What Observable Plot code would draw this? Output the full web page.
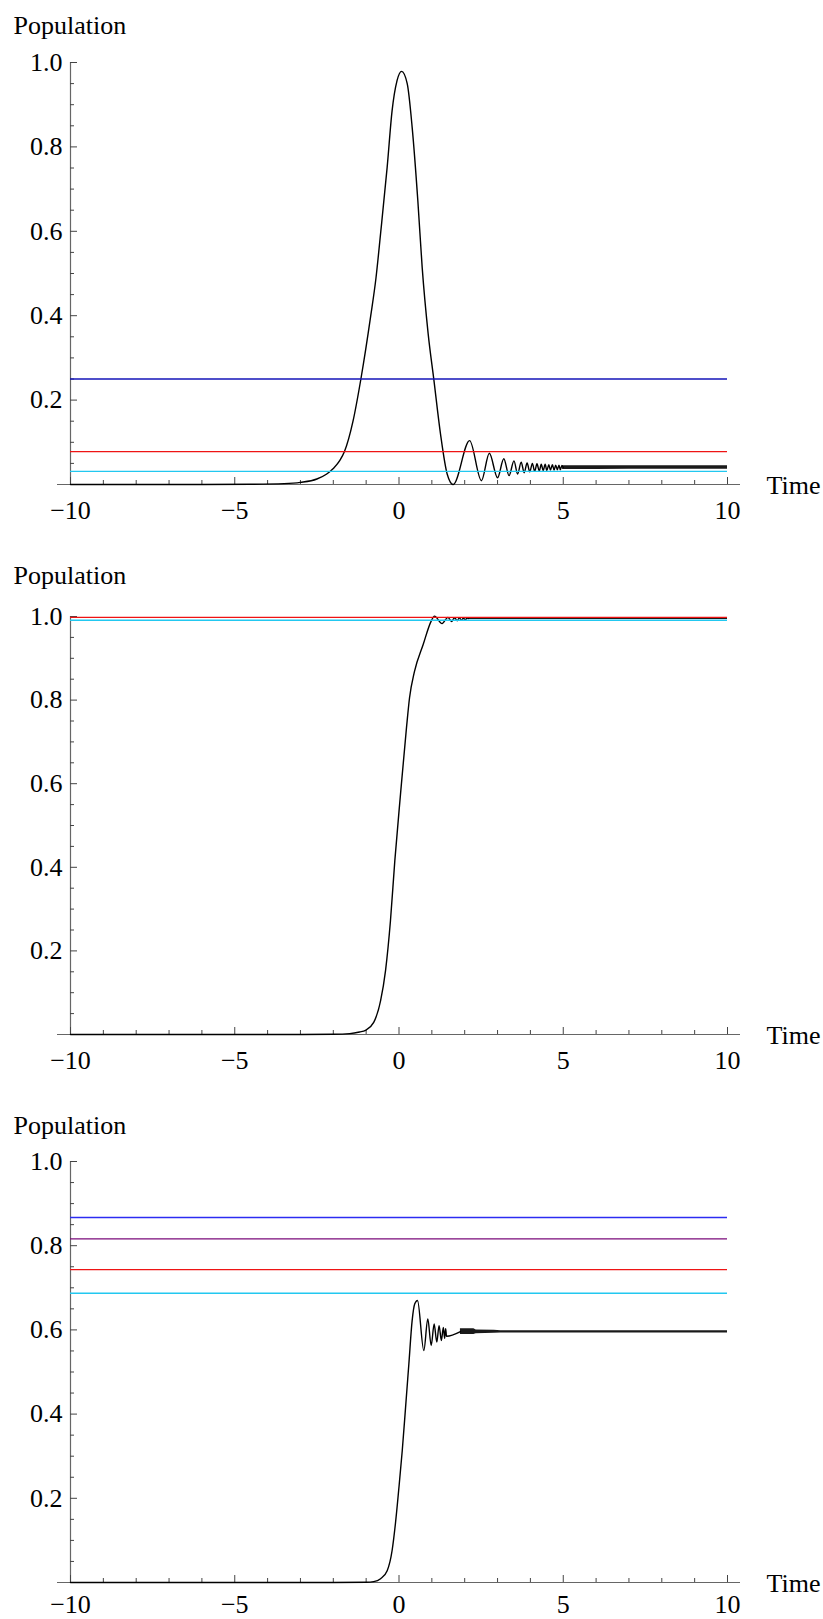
<!DOCTYPE html>
<html>
<head>
<meta charset="utf-8">
<script src="https://cdn.jsdelivr.net/npm/d3@7"></script>
<script src="https://cdn.jsdelivr.net/npm/@observablehq/plot@0.6"></script>
<style>
  html, body { margin: 0; padding: 0; background: #fff; }
  svg { display: block; }
  svg, svg text { font-family: "Liberation Serif", "Times New Roman", Times, serif !important; }
</style>
</head>
<body>
<div id="chart"></div>
<script>
// ---- axis ticks ----
const xMajor = [-10, -5, 0, 5, 10];
const xMinor = [-9, -8, -7, -6, -4, -3, -2, -1, 1, 2, 3, 4, 6, 7, 8, 9];
const yMajor = [0.2, 0.4, 0.6, 0.8, 1.0];
const yMinor = [0.05, 0.1, 0.15, 0.25, 0.3, 0.35, 0.45, 0.5, 0.55, 0.65, 0.7, 0.75, 0.85, 0.9, 0.95];
const xLabel = "Time";
const yLabel = "Population";

// ---- panel 1 ----
const p1Curve = [
  [-10, 0], [-6, 0], [-4.5, 0.0005], [-3.5, 0.002], [-3, 0.005], [-2.5, 0.013], [-2.2, 0.025],
  [-2, 0.038], [-1.8, 0.057], [-1.66, 0.078], [-1.4, 0.15], [-1.16, 0.25], [-0.86, 0.40], [-0.7, 0.49],
  [-0.56, 0.595], [-0.36, 0.752], [-0.21, 0.886], [-0.06, 0.957], [0.08, 0.979], [0.25, 0.95],
  [0.4, 0.847], [0.573, 0.673], [0.705, 0.515], [0.888, 0.357], [1.06, 0.249], [1.263, 0.12],
  [1.466, 0.025], [1.65, 0],
  [2.15, 0.104], [2.51, 0.009], [2.75, 0.074], [3.0, 0.016], [3.19, 0.061], [3.35, 0.021],
  [3.5, 0.056], [3.61, 0.025], [3.72, 0.053], [3.81, 0.028], [3.9, 0.051], [3.98, 0.03],
  [4.06, 0.05], [4.13, 0.031], [4.2, 0.049], [4.27, 0.032], [4.33, 0.048], [4.39, 0.033],
  [4.45, 0.048], [4.5, 0.033], [4.56, 0.047], [4.61, 0.034], [4.67, 0.047], [4.72, 0.034],
  [4.77, 0.046], [4.82, 0.035], [4.87, 0.046], [4.91, 0.035], [4.96, 0.045], [5.0, 0.04]
];
const p1Band = [[4.98, 0.0355, 0.0445], [6, 0.0355, 0.0445], [7, 0.036, 0.0445], [8, 0.036, 0.0445], [9, 0.036, 0.0445], [10, 0.036, 0.0445]];
const p1Levels = [0.25, 0.078, 0.031];
const p1Colors = ["#1414b8", "#ee1414", "#22c8f0"];

// ---- panel 2 ----
const p2Curve = [
  [-10, 0], [-3, 0], [-2, 0.0005], [-1.5, 0.002], [-1.2, 0.006], [-1.02, 0.01], [-0.77, 0.029],
  [-0.56, 0.081], [-0.41, 0.153], [-0.26, 0.272], [-0.127, 0.416], [0.046, 0.575], [0.228, 0.734],
  [0.32, 0.805], [0.47, 0.868], [0.736, 0.933], [0.98, 0.989],
  [1.08, 1.001], [1.31, 0.983], [1.49, 0.998], [1.6, 0.988], [1.69, 0.997], [1.77, 0.99],
  [1.84, 0.997], [1.9, 0.991], [1.96, 0.996], [2.02, 0.992], [2.07, 0.996], [2.12, 0.995]
];
const p2Band = [[2.12, 0.993, 0.997], [4, 0.993, 0.997], [7, 0.993, 0.997], [10, 0.993, 0.997]];
const p2Levels = [0.998, 0.991];
const p2Colors = ["#ee1414", "#22c8f0"];

// ---- panel 3 ----
const p3Curve = [
  [-10, 0], [-2, 0], [-1, 0.0005], [-0.77, 0.002], [-0.56, 0.009], [-0.36, 0.028], [-0.21, 0.076],
  [-0.11, 0.139], [-0.01, 0.219], [0.1, 0.314], [0.2, 0.416], [0.3, 0.519], [0.4, 0.622],
  [0.48, 0.662], [0.563, 0.67], [0.756, 0.551], [0.877, 0.626], [0.98, 0.563], [1.07, 0.614],
  [1.15, 0.571], [1.22, 0.61], [1.29, 0.575], [1.35, 0.606], [1.39, 0.58], [1.42, 0.603],
  [1.446, 0.585], [1.87, 0.596]
];
const p3Band = [[1.87, 0.589, 0.603], [2.28, 0.589, 0.603], [2.35, 0.591, 0.6], [2.9, 0.592, 0.599], [3.1, 0.5925, 0.598], [10, 0.5925, 0.598]];
const p3Levels = [0.867, 0.816, 0.743, 0.687];
const p3Colors = ["#2c2cf2", "#7a0a7a", "#ee1414", "#22c8f0"];

const FONT = "'Liberation Serif', 'Times New Roman', Times, serif";
const axisColor = "#666";
const tickColor = "#444";

function panel({curve, band, levels, colors, height, marginTop, marginBottom, labelPad}) {
  const levelData = levels.map((v, i) => ({v, c: colors[i]}));
  return Plot.plot({
    width: 823,
    height,
    marginLeft: 70,
    marginRight: 96,
    marginTop,
    marginBottom,
    style: {fontFamily: FONT, fontSize: "26px", color: "#000", background: "#fff", overflow: "visible"},
    x: {domain: [-10, 10], label: null},
    y: {domain: [0, 1], label: null},
    marks: [
      // axis lines
      Plot.ruleY([0], {stroke: axisColor, strokeWidth: 1.2, insetLeft: -13, insetRight: -13}),
      Plot.ruleX([-10], {stroke: axisColor, strokeWidth: 1.2}),
      // x ticks (inward)
      Plot.axisX({ticks: xMajor, tickSize: -7, fill: "none", stroke: tickColor, label: null}),
      Plot.axisX({ticks: xMinor, tickSize: -4, fill: "none", stroke: tickColor, label: null}),
      Plot.axisX({ticks: xMajor, tickSize: 0, tickPadding: labelPad, label: null, fill: "#000"}),
      // y ticks (inward)
      Plot.axisY({ticks: yMajor, tickSize: -7, fill: "none", stroke: tickColor, label: null}),
      Plot.axisY({ticks: yMinor, tickSize: -4, fill: "none", stroke: tickColor, label: null}),
      Plot.axisY({ticks: yMajor, tickSize: 0, tickPadding: 8, tickFormat: ".1f", label: null, fill: "#000"}),
      // curve
      Plot.areaY(band, {x: d => d[0], y1: d => d[1], y2: d => d[2], fill: "#1a1a1a", curve: "linear"}),
      Plot.line(curve, {x: d => d[0], y: d => d[1], stroke: "#000", strokeWidth: 1.4, curve: "monotone-x"}),
      // reference levels
      Plot.ruleY(levelData, {y: "v", x1: -10, x2: 10, stroke: "c", strokeWidth: 1.3}),
      // labels
      Plot.text([xLabel], {frameAnchor: "bottom-right", textAnchor: "start", lineAnchor: "middle", dx: 39, dy: 1, fill: "#000"}),
      Plot.text([yLabel], {frameAnchor: "top-left", textAnchor: "start", lineAnchor: "bottom", dx: -57, dy: 33 - marginTop, fill: "#000"})
    ]
  });
}

const root = document.getElementById("chart");
root.append(panel({curve: p1Curve, band: p1Band, levels: p1Levels, colors: p1Colors, height: 550, marginTop: 62, marginBottom: 66, labelPad: 16}));
root.append(panel({curve: p2Curve, band: p2Band, levels: p2Levels, colors: p2Colors, height: 550, marginTop: 66, marginBottom: 66, labelPad: 16}));
root.append(panel({curve: p3Curve, band: p3Band, levels: p3Levels, colors: p3Colors, height: 519, marginTop: 61, marginBottom: 37, labelPad: 12}));
</script>
</body>
</html>
